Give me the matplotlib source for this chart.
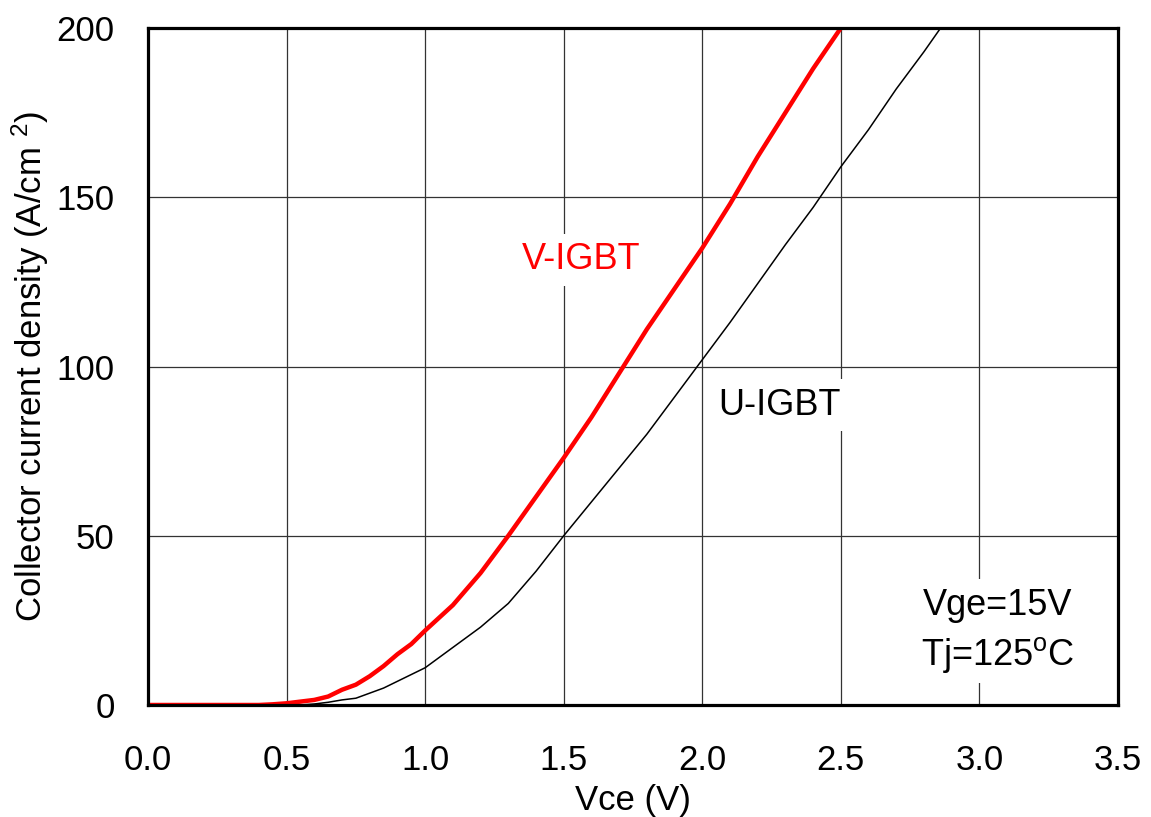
import matplotlib
matplotlib.use("Agg")
import matplotlib.pyplot as plt

plt.rcParams['font.family'] = ['Liberation Sans', 'DejaVu Sans']
plt.rcParams['mathtext.fontset'] = 'custom'
plt.rcParams['mathtext.rm'] = 'Liberation Sans'
plt.rcParams['mathtext.it'] = 'Liberation Sans'

# Vce (V) vs collector current density (A/cm2)
v_igbt_vce = [0.0, 0.1, 0.2, 0.3, 0.4, 0.45, 0.5, 0.55, 0.6, 0.65, 0.7, 0.75,
              0.8, 0.85, 0.9, 0.95, 1.0, 1.1, 1.2, 1.3, 1.4, 1.5, 1.6, 1.7,
              1.8, 1.9, 2.0, 2.1, 2.2, 2.3, 2.4, 2.5]
v_igbt_j = [0, 0, 0, 0, 0, 0.2, 0.5, 1, 1.5, 2.5, 4.5, 6,
            8.5, 11.5, 15, 18, 22, 29.5, 39, 50, 61.5, 73, 85, 98,
            111, 123, 135, 148, 162, 175, 188, 200]

u_igbt_vce = [0.0, 0.2, 0.4, 0.55, 0.6, 0.65, 0.7, 0.75, 0.8, 0.85, 0.9, 0.95,
              1.0, 1.1, 1.2, 1.3, 1.4, 1.5, 1.6, 1.7, 1.8, 1.9, 2.0, 2.1,
              2.2, 2.3, 2.4, 2.5, 2.6, 2.7, 2.8, 2.86]
u_igbt_j = [0, 0, 0, 0, 0.3, 0.8, 1.5, 2, 3.5, 5, 7, 9,
            11, 17, 23, 30, 39.5, 50, 60, 70, 80, 91, 102, 113,
            124.5, 136, 147, 159, 170, 182, 193, 200]

x_ticks = [0.0, 0.5, 1.0, 1.5, 2.0, 2.5, 3.0, 3.5]
y_ticks = [0, 50, 100, 150, 200]

fig = plt.figure(figsize=(11.51, 8.17), dpi=100)
ax = fig.add_axes([0.1286, 0.1371, 0.8427, 0.8286])

ax.plot(u_igbt_vce, u_igbt_j, color='black', lw=1.1, zorder=3)
ax.plot(v_igbt_vce, v_igbt_j, color='#ff0000', lw=3.2, zorder=4)

ax.set_xlim(0, 3.5)
ax.set_ylim(0, 200)
ax.set_xticks(x_ticks)
ax.set_yticks(y_ticks)
ax.set_xticklabels([f"{v:.1f}" for v in x_ticks])
ax.grid(True, color='#333333', lw=0.9, zorder=1)
ax.set_axisbelow(True)
ax.tick_params(length=0, labelsize=25, pad=24)
ax.tick_params(axis='x', pad=28)
for s in ax.spines.values():
    s.set_linewidth(2.3)
    s.set_color('black')
    s.set_zorder(5)

ax.set_xlabel('Vce (V)', fontsize=25, labelpad=5)
ax.set_ylabel('Collector current density (A/cm $^{2}$)', fontsize=25, labelpad=4)

box = dict(facecolor='white', edgecolor='none', pad=6)
ax.text(1.563, 131.5, 'V-IGBT', color='#ff0000', fontsize=26,
        ha='center', va='center', bbox=box, zorder=2)
ax.text(2.28, 88.6, 'U-IGBT', color='black', fontsize=26,
        ha='center', va='center', bbox=box, zorder=2)
ax.text(3.065, 29.5, 'Vge=15V', color='black', fontsize=26,
        ha='center', va='center', bbox=box, zorder=2)
ax.text(3.065, 14.8, 'Tj=125$^{\\mathrm{o}}$C', color='black', fontsize=26,
        ha='center', va='center', bbox=box, zorder=2)

fig.savefig('out.png', dpi=100, facecolor='white')
